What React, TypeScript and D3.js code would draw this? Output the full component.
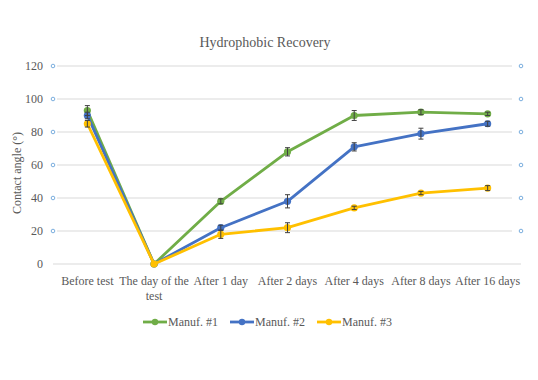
import React from "react";
import * as d3 from "d3";

const categories = ["Before test", "The day of the test", "After 1 day", "After 2 days", "After 4 days", "After 8 days", "After 16 days"];
const seriesNames = ["Manuf. #1", "Manuf. #2", "Manuf. #3"];
const seriesColors = ["#70AD47", "#4472C4", "#FFC000"];
const manuf1 = [93, 0, 38, 68, 90, 92, 91];
const manuf2 = [90, 0, 22, 38, 71, 79, 85];
const manuf3 = [85, 0, 18, 22, 34, 43, 46];
const err1 = [3, 0, 1.5, 2.5, 3, 1.5, 1];
const err2 = [2, 0, 1.5, 4, 2.5, 3.3, 1.5];
const err3 = [2, 0, 2.5, 3, 1, 1, 1.5];
const yTicks = [0, 20, 40, 60, 80, 100, 120];

const W = 538, H = 380;
const font = "Liberation Serif, Times New Roman, Times, DejaVu Serif, serif";
const textColor = "#595959";

export default function App() {
  const x = d3.scaleBand().domain(categories).range([54, 521]);
  const y = d3.scaleLinear().domain([0, 120]).range([264, 66]);
  const cx = (c: string) => (x(c) as number) + x.bandwidth() / 2;
  const values = [manuf1, manuf2, manuf3];
  const errs = [err1, err2, err3];
  const line = d3.line<number>().x((_, i) => cx(categories[i])).y((v) => y(v));
  const legendX = [143, 230, 317];
  const ts = { fontFamily: font };

  return (
    <svg width={W} height={H} style={{ position: "absolute", left: 0, top: 0, background: "#fff", fontFamily: font }}>
      <text x={265} y={47} textAnchor="middle" fontSize={14} fill={textColor} style={ts}>Hydrophobic Recovery</text>
      {yTicks.map((t) => (
        <g key={t}>
          {t === 0 ? (
            <line x1={53} x2={521} y1={y(t)} y2={y(t)} stroke="#d9d9d9" strokeWidth={1} />
          ) : (
            <>
              <line x1={57} x2={512} y1={y(t)} y2={y(t)} stroke="#d9d9d9" strokeWidth={1} />
              <circle cx={53} cy={y(t)} r={1.8} fill="#fff" stroke="#5B9BD5" strokeWidth={0.8} />
              <circle cx={521} cy={y(t)} r={1.8} fill="#fff" stroke="#5B9BD5" strokeWidth={0.8} />
            </>
          )}
          <text x={43} y={y(t)} dy="0.35em" textAnchor="end" fontSize={12} fill={textColor} style={ts}>{t}</text>
        </g>
      ))}
      <text transform={`translate(21,173) rotate(-90)`} textAnchor="middle" fontSize={12} fill={textColor} style={ts}>Contact angle (°)</text>
      {categories.map((c) => {
        const parts = c === "The day of the test" ? ["The day of the", "test"] : [c];
        return (
          <text key={c} x={cx(c)} y={285} textAnchor="middle" fontSize={12} fill={textColor} style={ts}>
            {parts.map((p, i) => (
              <tspan key={i} x={cx(c)} dy={i === 0 ? 0 : 15}>{p}</tspan>
            ))}
          </text>
        );
      })}
      {values.map((vals, si) => (
        <g key={si}>
          <path d={line(vals) as string} fill="none" stroke={seriesColors[si]} strokeWidth={2.8} strokeLinejoin="round" />
          {vals.map((v, i) => (
            <circle key={i} cx={cx(categories[i])} cy={y(v)} r={3.6} fill={seriesColors[si]} />
          ))}
        </g>
      ))}
      {values.map((vals, si) => (
        <g key={"e" + si} stroke="#404040" strokeWidth={1}>
          {vals.map((v, i) => {
            const e = errs[si][i];
            if (!e) return null;
            const px = cx(categories[i]);
            return (
              <g key={i}>
                <line x1={px} x2={px} y1={y(v + e)} y2={y(v - e)} />
                <line x1={px - 2.5} x2={px + 2.5} y1={y(v + e)} y2={y(v + e)} />
                <line x1={px - 2.5} x2={px + 2.5} y1={y(v - e)} y2={y(v - e)} />
              </g>
            );
          })}
        </g>
      ))}
      {seriesNames.map((n, si) => (
        <g key={n}>
          <line x1={legendX[si]} x2={legendX[si] + 24} y1={322} y2={322} stroke={seriesColors[si]} strokeWidth={2.8} />
          <circle cx={legendX[si] + 12} cy={322} r={3.2} fill={seriesColors[si]} />
          <text x={legendX[si] + 25} y={322} dy="0.35em" fontSize={12} fill={textColor} style={ts}>{n}</text>
        </g>
      ))}
    </svg>
  );
}
